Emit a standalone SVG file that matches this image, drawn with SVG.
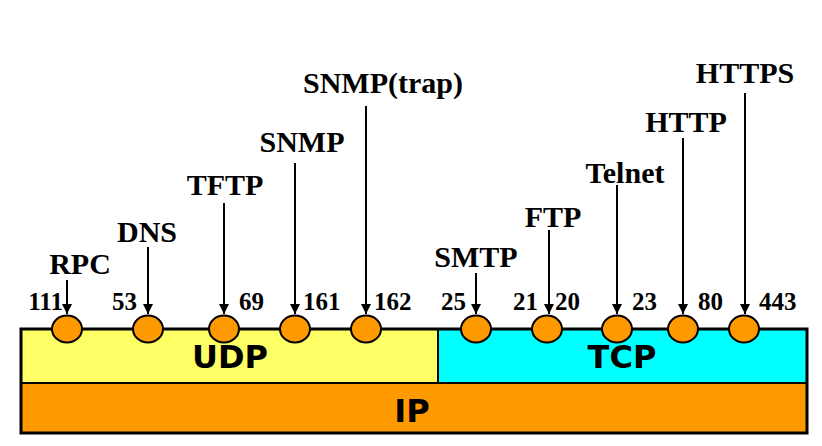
<svg xmlns="http://www.w3.org/2000/svg" width="822" height="446" viewBox="0 0 822 446">
<defs>
<style>
.lbl{font-family:"Liberation Serif","Times New Roman",serif;font-weight:bold;font-size:30px;fill:#000;text-anchor:middle}
.num{font-family:"Liberation Serif","Times New Roman",serif;font-weight:bold;font-size:25px;fill:#000}
.big{font-family:"DejaVu Sans",Verdana,sans-serif;font-weight:bold;font-size:32px;fill:#000;text-anchor:middle}
.port{fill:#FF9900;stroke:#000;stroke-width:2}
.arr{stroke:#000;stroke-width:2;fill:none;marker-end:url(#ah)}
</style>
<marker id="ah" viewBox="0 0 10 10" refX="10" refY="5" markerWidth="5" markerHeight="5" orient="auto" markerUnits="strokeWidth">
<path d="M0,0 L10,5 L0,10 z" fill="#000"/>
</marker>
</defs>
<rect width="822" height="446" fill="#fff"/>
<g id="layers">
<rect x="21" y="329" width="417" height="54" fill="#FFFF66"/>
<rect x="438" y="329" width="369" height="54" fill="#00FFFF"/>
<rect x="21" y="383" width="786" height="50" fill="#FF9900"/>
<line x1="438" y1="329" x2="438" y2="383" stroke="#000" stroke-width="2"/>
<line x1="21" y1="383" x2="807" y2="383" stroke="#000" stroke-width="2"/>
<rect x="21" y="329" width="786" height="104" fill="none" stroke="#000" stroke-width="3"/>
<text class="big" x="230" y="368">UDP</text>
<text class="big" x="622" y="368">TCP</text>
<text class="big" x="412" y="422">IP</text>
</g>
<g id="connectors">
<line class="arr" x1="67" y1="280" x2="67" y2="314"/>
<line class="arr" x1="148" y1="247" x2="148" y2="314"/>
<line class="arr" x1="224" y1="203" x2="224" y2="314"/>
<line class="arr" x1="295" y1="163" x2="295" y2="314"/>
<line class="arr" x1="366" y1="106" x2="366" y2="314"/>
<line class="arr" x1="476" y1="273" x2="476" y2="314"/>
<line class="arr" x1="549" y1="230" x2="549" y2="314"/>
<line class="arr" x1="617" y1="185" x2="617" y2="314"/>
<line class="arr" x1="683" y1="138" x2="683" y2="314"/>
<line class="arr" x1="745" y1="93" x2="745" y2="314"/>
</g>
<g id="rpc"><ellipse class="port" cx="67" cy="329" rx="15" ry="13.5"/><text class="lbl" x="80" y="274">RPC</text><text class="num" x="63" y="310" text-anchor="end">111</text></g>
<g id="dns"><ellipse class="port" cx="148" cy="329" rx="15" ry="13.5"/><text class="lbl" x="147" y="242">DNS</text><text class="num" x="137" y="310" text-anchor="end">53</text></g>
<g id="tftp"><ellipse class="port" cx="224" cy="329" rx="15" ry="13.5"/><text class="lbl" x="225" y="195">TFTP</text><text class="num" x="239" y="310">69</text></g>
<g id="snmp"><ellipse class="port" cx="295" cy="329" rx="15" ry="13.5"/><text class="lbl" x="302" y="152">SNMP</text><text class="num" x="303" y="310">161</text></g>
<g id="snmptrap"><ellipse class="port" cx="366" cy="329" rx="15" ry="13.5"/><text class="lbl" x="383" y="93">SNMP(trap)</text><text class="num" x="374" y="310">162</text></g>
<g id="smtp"><ellipse class="port" cx="476" cy="329" rx="15" ry="13.5"/><text class="lbl" x="476" y="267">SMTP</text><text class="num" x="466" y="310" text-anchor="end">25</text></g>
<g id="ftp"><ellipse class="port" cx="547" cy="329" rx="15" ry="13.5"/><text class="lbl" x="553" y="227">FTP</text><text class="num" x="538" y="310" text-anchor="end">21</text><text class="num" x="555" y="310">20</text></g>
<g id="telnet"><ellipse class="port" cx="617" cy="329" rx="15" ry="13.5"/><text class="lbl" x="625" y="183">Telnet</text><text class="num" x="632" y="310">23</text></g>
<g id="http"><ellipse class="port" cx="683" cy="329" rx="15" ry="13.5"/><text class="lbl" x="686" y="132">HTTP</text><text class="num" x="698" y="310">80</text></g>
<g id="https"><ellipse class="port" cx="744" cy="329" rx="15" ry="13.5"/><text class="lbl" x="745" y="83">HTTPS</text><text class="num" x="759" y="310">443</text></g>
</svg>
